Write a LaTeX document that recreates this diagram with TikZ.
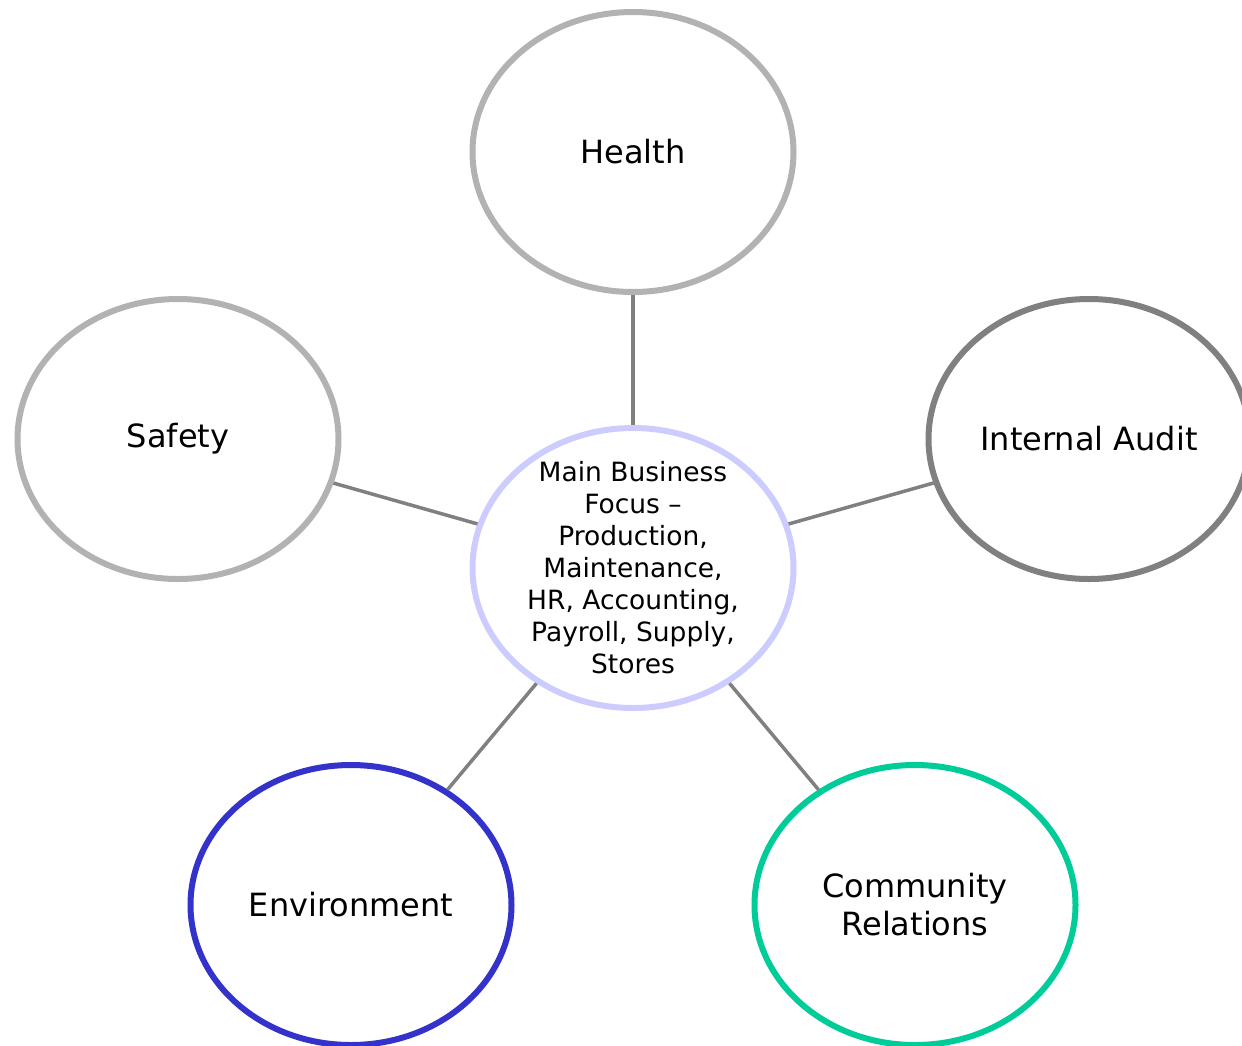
\documentclass[tikz,border=0pt]{standalone}
\usepackage{fontspec}
\setmainfont{DejaVu Sans}
\usetikzlibrary{shapes.geometric}
\definecolor{grisclair}{RGB}{178,178,178}
\definecolor{grisfonce}{RGB}{128,128,128}
\definecolor{lavande}{RGB}{204,204,255}
\definecolor{bleuenv}{RGB}{51,51,204}
\definecolor{vertcomm}{RGB}{0,204,153}
\tikzset{
  bulle/.style={ellipse, draw=#1, line width=6pt, fill=white, inner sep=0pt,
    minimum width=321pt, minimum height=280pt, align=center,
    font=\fontsize{32}{38}\selectfont},
  bulle/.default=grisclair,
  centre/.style={align=center, inner sep=0pt, font=\fontsize{26.5}{32}\selectfont},
  lien/.style={draw=grisfonce, line width=3.5pt},
}

\begin{document}
\begin{tikzpicture}[x=1pt, y=-1pt]
  \useasboundingbox (0,0) rectangle (1242,1045);
  % Bulles autour du centre
  \node[bulle]           (sante)   at (633,152)  {Health};
  \node[bulle]           (securite) at (178,439) {Safety};
  \node[bulle=grisfonce] (audit)   at (1089,439) {Internal Audit};
  \node[bulle=bleuenv]   (environ) at (351,905)  {Environment};
  \node[bulle=vertcomm]  (commun)  at (915,905)  {Community\\ Relations};
  % Bulle centrale
  \node[bulle=lavande]   (focus)   at (633,568)  {};
  \node[centre] (focustexte) at (focus.center) {Main Business\\ Focus –\\ Production,\\ Maintenance,\\ HR, Accounting,\\ Payroll, Supply,\\ Stores};
  % Liens
  \draw[lien] (sante) -- (focus);
  \draw[lien] (securite) -- (focus);
  \draw[lien] (audit) -- (focus);
  \draw[lien] (environ) -- (focus);
  \draw[lien] (commun) -- (focus);
\end{tikzpicture}
\end{document}
